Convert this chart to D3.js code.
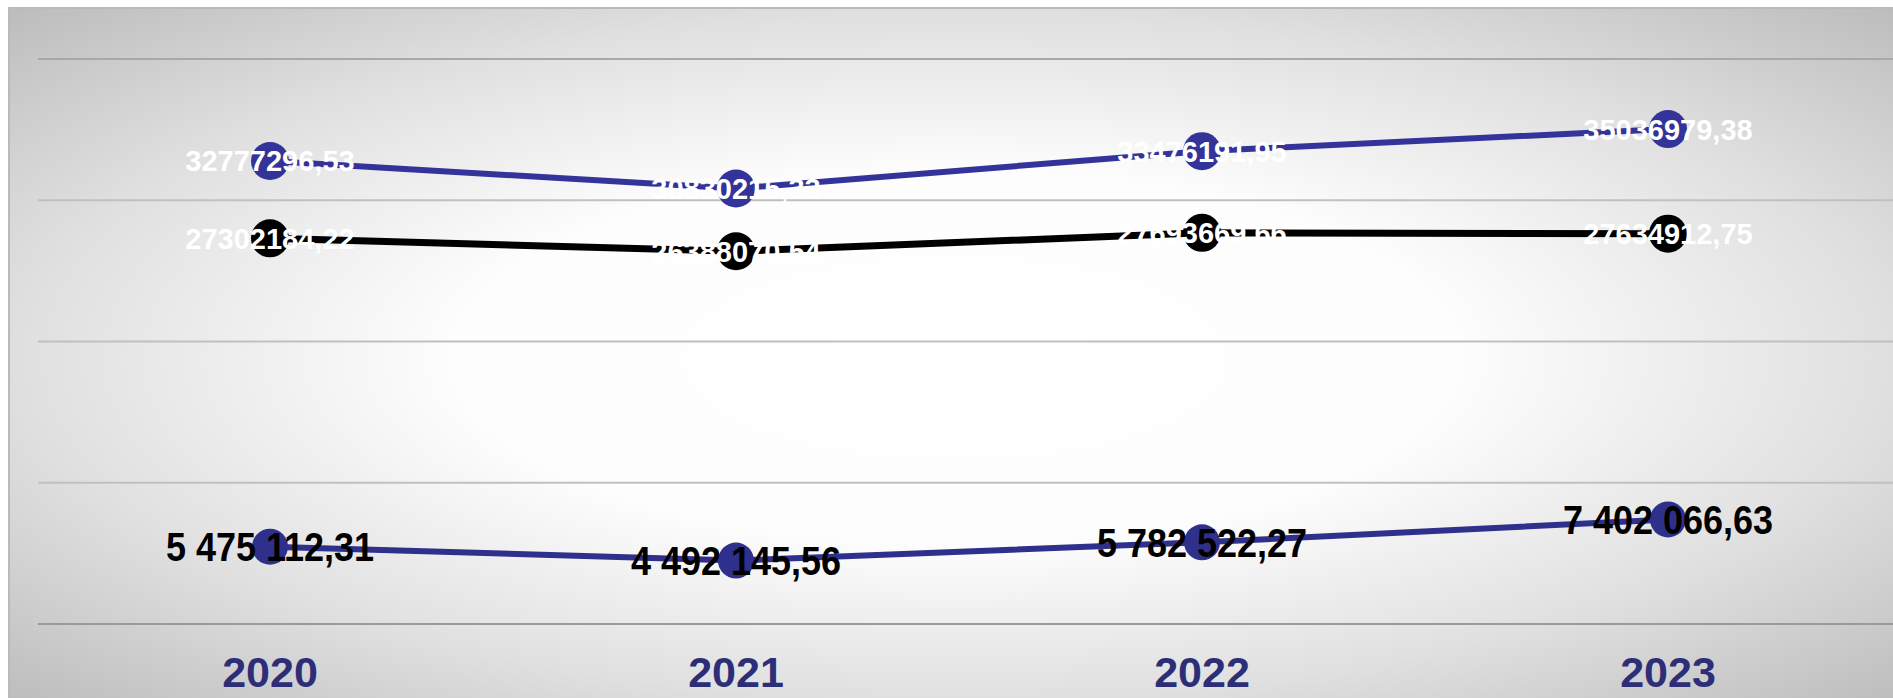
<!DOCTYPE html>
<html><head><meta charset="utf-8">
<script src="https://cdn.jsdelivr.net/npm/d3@7"></script>
<style>html,body{margin:0;padding:0;background:#fff;overflow:hidden}</style>
</head><body>
<svg id="chart" width="1893" height="698"></svg>
<script>
const years = ["2020", "2021", "2022", "2023"];
const seriesA = [32777296.53, 30830215.33, 33476191.95, 35036979.38]; // top, blue
const seriesB = [27302184.22, 26388070.54, 27693669.66, 27634912.75]; // middle, black
const seriesC = [5475112.31, 4492145.56, 5782522.27, 7402066.63];     // bottom, blue
const gridTicks = [0, 10000000, 20000000, 30000000, 40000000];

const W = 1893, H = 698;
const svg = d3.select("#chart");
const defs = svg.append("defs");
const rg = defs.append("radialGradient").attr("id", "bg")
  .attr("cx", "0.5").attr("cy", "0.5").attr("r", "0.7");
rg.append("stop").attr("offset", "0").attr("stop-color", "#ffffff");
rg.append("stop").attr("offset", "0.38").attr("stop-color", "#fdfdfd");
rg.append("stop").attr("offset", "0.7").attr("stop-color", "#e0e0e0");
rg.append("stop").attr("offset", "1").attr("stop-color", "#bdbdbd");

svg.append("rect").attr("x", 9).attr("y", 8).attr("width", W).attr("height", H)
  .attr("fill", "url(#bg)").attr("stroke", "#bababa").attr("stroke-width", 2);

const x = d3.scalePoint().domain(years).range([37, 1901]).padding(0.5);
const y = d3.scaleLinear().domain([0, 40000000]).range([624, 59]);

svg.append("g").selectAll("line").data(gridTicks).join("line")
  .attr("x1", 38).attr("x2", W + 10)
  .attr("y1", d => y(d)).attr("y2", d => y(d))
  .attr("stroke", (d, i) => i === 0 ? "#9a9a9a" : (i === gridTicks.length - 1 ? "#a8a8a8" : "#c0c0c0"))
  .attr("stroke-width", 2);

const locSpace = d3.formatLocale({decimal: ",", thousands: " ", grouping: [3], currency: ["", ""]});
const fmtSpace = locSpace.format(",.2f");
const fmtPlain = locSpace.format(".2f");

const series = [
  {vals: seriesA, color: "#333399", sw: 6, r: 19, fmt: fmtPlain, lab: "#ffffff", sx: 1, font: "bold 29px 'Liberation Sans', Arial, sans-serif"},
  {vals: seriesB, color: "#000000", sw: 7, r: 19, fmt: fmtPlain, lab: "#ffffff", sx: 1, font: "bold 29px 'Liberation Sans', Arial, sans-serif"},
  {vals: seriesC, color: "#2f2f8c", sw: 6, r: 18, fmt: fmtSpace, lab: "#000000", sx: 0.9, font: "bold 40px 'Liberation Sans Narrow', 'Arial Narrow', 'Liberation Sans', sans-serif"}
];

const line = d3.line().x((d, i) => x(years[i])).y(d => y(d));
series.forEach(s => {
  svg.append("path").datum(s.vals).attr("d", line)
    .attr("fill", "none").attr("stroke", s.color).attr("stroke-width", s.sw);
});
series.forEach(s => {
  svg.append("g").selectAll("circle").data(s.vals).join("circle")
    .attr("cx", (d, i) => x(years[i])).attr("cy", d => y(d)).attr("r", s.r)
    .attr("fill", s.color);
});
series.forEach(s => {
  svg.append("g").selectAll("text").data(s.vals).join("text")
    .attr("transform", (d, i) => `translate(${x(years[i])},${y(d)}) scale(${s.sx},1)`)
    .attr("dy", "0.36em").attr("text-anchor", "middle")
    .style("font", s.font).attr("fill", s.lab)
    .text(d => s.fmt(d));
});

svg.append("g").selectAll("text").data(years).join("text")
  .attr("x", d => x(d)).attr("y", 687).attr("text-anchor", "middle")
  .style("font", "bold 43px 'Liberation Sans', Arial, sans-serif")
  .attr("fill", "#2e2e78").text(d => d);
</script>
</body></html>
